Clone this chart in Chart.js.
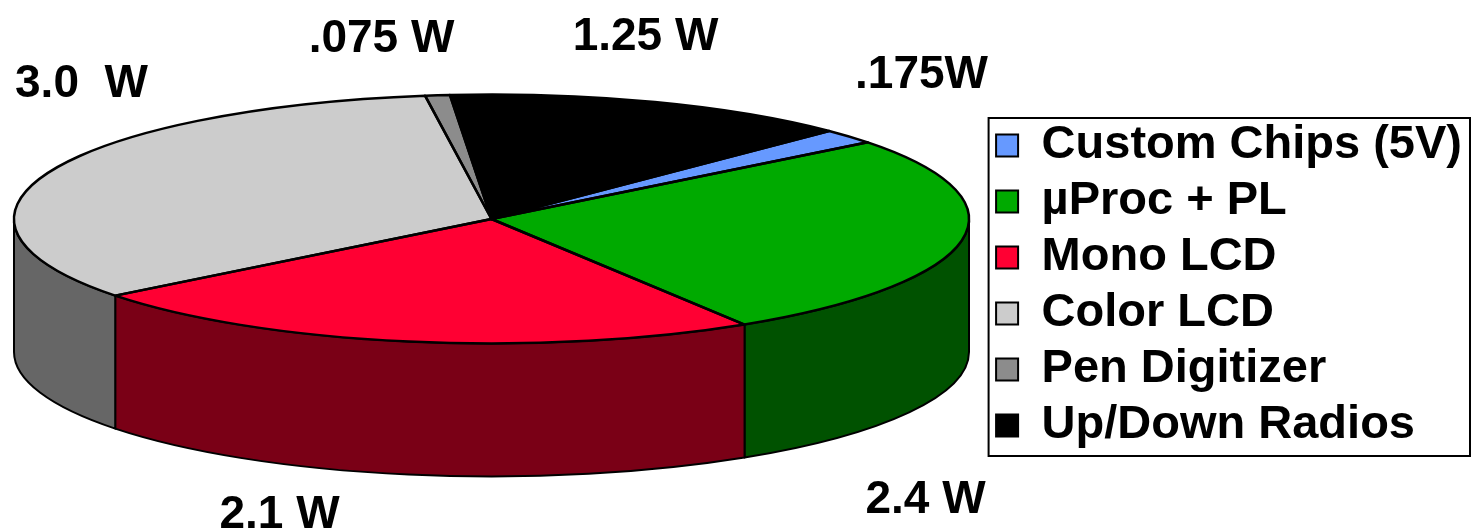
<!DOCTYPE html>
<html>
<head>
<meta charset="utf-8">
<script src="https://cdn.jsdelivr.net/npm/chart.js@4.4.1/dist/chart.umd.min.js"></script>
<style>
  html, body { margin: 0; padding: 0; background: #fff; }
  #wrap { width: 1472px; height: 532px; }
</style>
</head>
<body>
<div id="wrap"><canvas id="pie"></canvas></div>
<script>
// 데이터
const categories = ['Custom Chips (5V)', 'µProc + PL', 'Mono LCD', 'Color LCD', 'Pen Digitizer', 'Up/Down Radios'];
const watts = [0.175, 2.4, 2.1, 3.0, 0.075, 1.25];
const wattLabels = ['.175W', '2.4 W', '2.1 W', '3.0  W', '.075 W', '1.25 W'];

// 색상
const topColors = ['#6699FF', '#00AA00', '#FF0033', '#CCCCCC', '#8C8C8C', '#000000'];
const sideColors = ['#334D80', '#005200', '#7A0016', '#666666', '#464646', '#000000'];

// 라벨 위치 (파이 중심 기준, px)
const labelOffsets = [[430, -131], [434, 294], [-212, 309], [-410, -122], [-110, -167], [154, -169]];

const FONT = '"Liberation Sans", Arial, Helvetica, sans-serif';

function pieGeom(chart) {
    const o = chart.options.plugins.pie3d;
    const area = chart.chartArea;
    const rx = o.rx;
    const ry = o.rx * o.tilt;
    return { cx: area.left + o.left + rx, cy: area.top + o.top + ry, rx: rx, ry: ry, depth: o.depth };
}

// 3D 효과: 옆면을 먼저 그리고, 라이브러리의 원형 파이를 타원으로 눌러서 윗면으로 사용
const pie3d = {
    id: 'pie3d',
    beforeDatasetsDraw(chart) {
        const ctx = chart.ctx;
        const g = pieGeom(chart);
        const arcs = chart.getDatasetMeta(0).data;

        ctx.save();
        ctx.lineWidth = 2;
        ctx.strokeStyle = '#000';
        ctx.lineJoin = 'round';
        arcs.forEach((arc, i) => {
            [-2 * Math.PI, 0, 2 * Math.PI].forEach(shift => {
                const a1 = Math.max(arc.startAngle, shift);
                const a2 = Math.min(arc.endAngle, shift + Math.PI);
                if (a2 <= a1) return;
                ctx.beginPath();
                ctx.ellipse(g.cx, g.cy, g.rx, g.ry, 0, a1, a2, false);
                ctx.ellipse(g.cx, g.cy + g.depth, g.rx, g.ry, 0, a2, a1, true);
                ctx.closePath();
                ctx.fillStyle = sideColors[i];
                ctx.fill();
                ctx.stroke();
            });
        });
        ctx.restore();

        const a0 = arcs[0];
        const R = a0.outerRadius;
        ctx.save();
        ctx.translate(g.cx, g.cy);
        ctx.scale(g.rx / R, g.ry / R);
        ctx.translate(-a0.x, -a0.y);
    },
    afterDatasetsDraw(chart) {
        const ctx = chart.ctx;
        ctx.restore();
        const g = pieGeom(chart);
        const arcs = chart.getDatasetMeta(0).data;

        // 윗면 테두리
        ctx.save();
        ctx.lineWidth = 2.5;
        ctx.strokeStyle = '#000';
        ctx.lineJoin = 'round';
        arcs.forEach(arc => {
            ctx.beginPath();
            ctx.moveTo(g.cx, g.cy);
            ctx.ellipse(g.cx, g.cy, g.rx, g.ry, 0, arc.startAngle, arc.endAngle, false);
            ctx.closePath();
            ctx.stroke();
        });

        // 값 라벨
        ctx.fillStyle = '#000';
        ctx.font = 'bold 46px ' + FONT;
        ctx.textAlign = 'center';
        ctx.textBaseline = 'alphabetic';
        wattLabels.forEach((txt, i) => {
            ctx.fillText(txt, g.cx + labelOffsets[i][0], g.cy + labelOffsets[i][1]);
        });
        ctx.restore();
    }
};

// 범례 테두리
const legendFrame = {
    id: 'legendFrame',
    afterDraw(chart) {
        const lg = chart.legend;
        const boxes = lg.legendHitBoxes;
        if (!boxes || !boxes.length) return;
        const last = boxes[boxes.length - 1];
        const top = boxes[0].top - 4;
        const bottom = last.top + last.height + 7;
        const ctx = chart.ctx;
        ctx.save();
        ctx.lineWidth = 2;
        ctx.strokeStyle = '#000';
        ctx.strokeRect(lg.left + 1.5, top, lg.right - lg.left - 3.5, bottom - top);
        ctx.restore();
    }
};

const baseLabels = Chart.overrides.doughnut.plugins.legend.labels.generateLabels;

new Chart(document.getElementById('pie'), {
    type: 'pie',
    data: {
        labels: categories,
        datasets: [{
            data: watts,
            backgroundColor: topColors,
            borderWidth: 0,
            clip: false
        }]
    },
    options: {
        responsive: true,
        maintainAspectRatio: false,
        animation: false,
        events: [],
        rotation: 45,
        layout: { padding: { top: 0, bottom: 74, left: 0, right: 0 } },
        plugins: {
            pie3d: { left: 14, top: 94.5, rx: 477.5, tilt: 0.2607, depth: 133 },
            tooltip: { enabled: false },
            legend: {
                position: 'right',
                align: 'end',
                labels: {
                    color: '#000',
                    boxWidth: 22,
                    boxHeight: 22,
                    padding: 9,
                    font: { family: FONT, size: 47, weight: 'bold' },
                    generateLabels(chart) {
                        const items = baseLabels(chart);
                        items.forEach(it => {
                            it.lineWidth = 2;
                            it.strokeStyle = '#000';
                        });
                        return items;
                    }
                }
            }
        }
    },
    plugins: [pie3d, legendFrame]
});
</script>
</body>
</html>
